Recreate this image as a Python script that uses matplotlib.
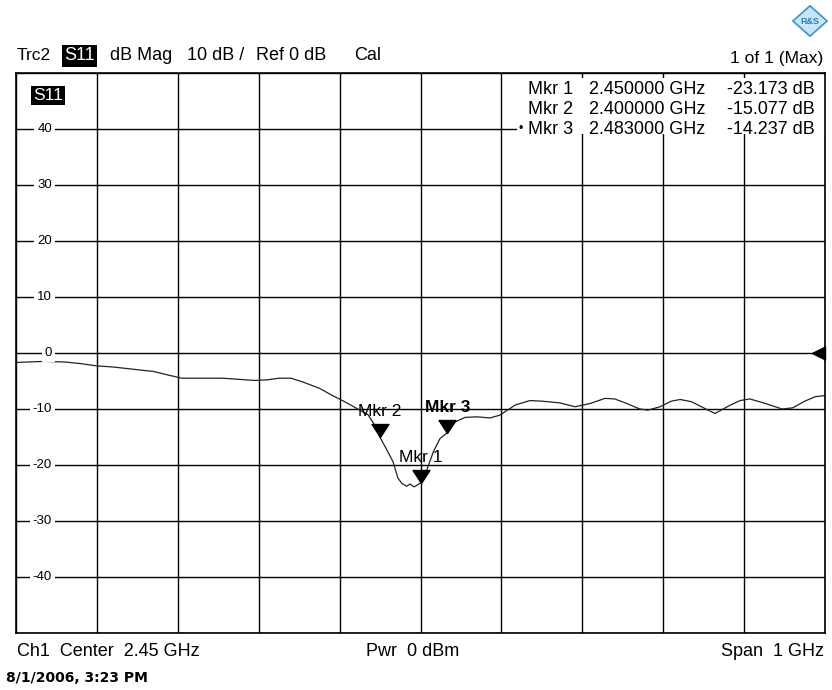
import matplotlib

matplotlib.use("Agg")
import matplotlib.pyplot as plt
from matplotlib.patches import Polygon, Rectangle
from matplotlib.path import Path

plt.rcParams["font.family"] = ["Liberation Sans", "DejaVu Sans"]

# trace
FREQ_GHZ = [
    1.950, 1.965, 1.985, 2.010, 2.030, 2.050, 2.070, 2.095, 2.120, 2.140,
    2.155, 2.180, 2.205, 2.225, 2.245, 2.260, 2.275, 2.290, 2.305, 2.325,
    2.340, 2.355, 2.370, 2.385, 2.393, 2.400, 2.408, 2.416, 2.422, 2.427,
    2.433, 2.437, 2.442, 2.446, 2.450, 2.458, 2.466, 2.474, 2.483, 2.493,
    2.505, 2.520, 2.536, 2.548, 2.567, 2.585, 2.600, 2.622, 2.641, 2.660,
    2.678, 2.690, 2.703, 2.721, 2.731, 2.746, 2.760, 2.771, 2.785, 2.800,
    2.814, 2.833, 2.845, 2.857, 2.876, 2.897, 2.910, 2.925, 2.938, 2.950,
]
S11_DB = [
    -1.7, -1.6, -1.5, -1.6, -1.9, -2.3, -2.5, -2.9, -3.3, -4.0,
    -4.5, -4.5, -4.5, -4.7, -4.9, -4.8, -4.5, -4.5, -5.2, -6.3,
    -7.5, -8.6, -9.8, -11.0, -12.8, -15.08, -17.2, -19.4, -22.3, -23.3,
    -23.8, -23.4, -23.9, -23.6, -23.17, -20.8, -17.6, -15.3, -14.24, -12.3,
    -11.5, -11.4, -11.6, -11.1, -9.3, -8.5, -8.6, -8.9, -9.6, -9.0,
    -8.1, -8.2, -8.9, -10.0, -10.2, -9.6, -8.6, -8.3, -8.7, -9.8,
    -10.8, -9.3, -8.5, -8.2, -9.0, -10.0, -9.8, -8.6, -7.8, -7.6,
]

MARKER_NAMES = ["Mkr 1", "Mkr 2", "Mkr 3"]
MARKER_FREQ_GHZ = [2.450, 2.400, 2.483]
MARKER_DB = [-23.173, -15.077, -14.237]

X_GRID = [1.95, 2.05, 2.15, 2.25, 2.35, 2.45, 2.55, 2.65, 2.75, 2.85, 2.95]
Y_GRID = [50, 40, 30, 20, 10, 0, -10, -20, -30, -40, -50]
Y_LABELS = [40, 30, 20, 10, 0, -10, -20, -30, -40]

W, H = 832, 690


def fx(x):
    return x / W


def fy(y):
    return 1 - y / H


def draw_header(fig):
    fig.text(fx(17), fy(56), "Trc2", fontsize=12.5, va="center")
    fig.text(fx(64), fy(56), "S11", fontsize=13, va="center", color="white",
             bbox=dict(facecolor="black", edgecolor="none", pad=1.5))
    fig.text(fx(110), fy(56), "dB Mag", fontsize=13, va="center")
    fig.text(fx(187), fy(56), "10 dB /", fontsize=13, va="center")
    fig.text(fx(256), fy(56), "Ref 0 dB", fontsize=13, va="center")
    fig.text(fx(354), fy(56), "Cal", fontsize=13, va="center")
    fig.text(fx(823), fy(58), "1 of 1 (Max)", fontsize=12.5, va="center", ha="right")

    # small R&S diamond in the corner
    logo = fig.add_axes([fx(792), fy(37), 36 / W, 32 / H])
    logo.set_xlim(-1, 1)
    logo.set_ylim(-1, 1)
    logo.axis("off")
    logo.add_patch(Polygon([(0, 0.95), (0.95, 0), (0, -0.95), (-0.95, 0)], closed=True,
                           facecolor="#c9e6f8", edgecolor="#3d9bd6", linewidth=1.3))
    logo.text(0, 0, "R&S", fontsize=6.5, ha="center", va="center", color="#2f7fb8",
              fontweight="bold")


def draw_footer(fig):
    y = fy(652)
    fig.text(fx(17), y, "Ch1  Center  2.45 GHz", fontsize=13, va="center")
    fig.text(fx(413), y, "Pwr  0 dBm", fontsize=13, va="center", ha="center")
    fig.text(fx(824), y, "Span  1 GHz", fontsize=13, va="center", ha="right")
    fig.text(fx(6), fy(678), "8/1/2006, 3:23 PM", fontsize=10, va="center",
             fontweight="bold", family="DejaVu Sans")


def draw_marker_table(fig, ax):
    ax.add_patch(Rectangle((0.619, 0.891), 0.381, 0.1, transform=ax.transAxes,
                           facecolor="white", edgecolor="none", zorder=1.5))
    rows_y = [89, 109, 129]
    for name, f, db, y in zip(MARKER_NAMES, MARKER_FREQ_GHZ, MARKER_DB, rows_y):
        fig.text(fx(528), fy(y), name, fontsize=13, va="center", ha="left")
        fig.text(fx(647), fy(y), f"{f:.6f} GHz", fontsize=13, va="center", ha="center")
        fig.text(fx(815), fy(y), f"{db:.3f} dB", fontsize=13, va="center", ha="right")
    fig.text(fx(521), fy(129), "\u2022", fontsize=9, va="center", ha="center")


def main():
    fig = plt.figure(figsize=(W / 100, H / 100), dpi=100)
    ax = fig.add_axes([fx(16), 57 / H, 809 / W, 560 / H])

    ax.set_xlim(1.95, 2.95)
    ax.set_ylim(-50, 50)
    ax.set_xticks(X_GRID)
    ax.set_yticks(Y_GRID)
    ax.tick_params(length=0, labelbottom=False, labelleft=False)
    ax.set_axisbelow(True)
    ax.grid(True, color="black", linewidth=1.0)
    for spine in ax.spines.values():
        spine.set_linewidth(1.2)

    for v in Y_LABELS:
        ax.text(0.0445, v, str(v), transform=ax.get_yaxis_transform(), fontsize=9.5,
                ha="right", va="center", zorder=3,
                bbox=dict(facecolor="white", edgecolor="none", pad=2))

    ax.text(0.021, 0.96, "S11", transform=ax.transAxes, fontsize=12.5, color="white",
            va="center", bbox=dict(facecolor="black", edgecolor="none", pad=1.5))

    ax.plot(FREQ_GHZ, S11_DB, color="#222222", linewidth=0.9, zorder=2)

    tip_down = Path([(-0.65, 1), (0.65, 1), (0, 0), (-0.65, 1)],
                    [Path.MOVETO, Path.LINETO, Path.LINETO, Path.CLOSEPOLY])
    ax.plot(MARKER_FREQ_GHZ, MARKER_DB, linestyle="none", marker=tip_down,
            markersize=18.7, color="black", zorder=4)
    for name, f, db in zip(MARKER_NAMES, MARKER_FREQ_GHZ, MARKER_DB):
        weight = "bold" if name == "Mkr 3" else "normal"
        ax.annotate(name, (f, db), xytext=(0, 18.5), textcoords="offset points",
                    ha="center", va="center", fontsize=12.5, fontweight=weight, zorder=5)

    tip_left = Path([(-1, 0), (0, 0.5), (0, -0.5), (-1, 0)],
                    [Path.MOVETO, Path.LINETO, Path.LINETO, Path.CLOSEPOLY])
    ax.plot([1.0], [0], transform=ax.get_yaxis_transform(), marker=tip_left,
            markersize=18.7, color="black", clip_on=False, zorder=5)

    draw_marker_table(fig, ax)
    draw_header(fig)
    draw_footer(fig)

    fig.savefig("out.png", dpi=100, facecolor="white")
    plt.close(fig)


if __name__ == "__main__":
    main()
